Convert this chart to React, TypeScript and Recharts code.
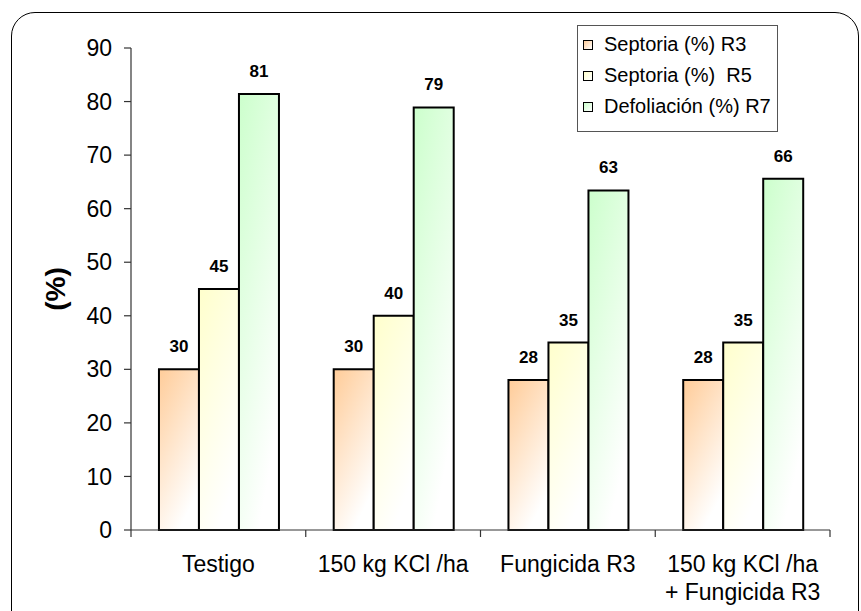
import React from "react";
import { Bar, BarChart, LabelList, Legend, XAxis, YAxis } from "recharts";

const categories = ["Testigo", "150 kg KCl /ha", "Fungicida R3", "150 kg KCl /ha\n+ Fungicida R3"];
const septoriaR3 = [30, 30, 28, 28];
const septoriaR5 = [45, 40, 35, 35];
const defoliacionR7 = [81.4, 78.9, 63.4, 65.6];
const seriesNames = ["Septoria (%) R3", "Septoria (%)  R5", "Defoliación (%) R7"];
const seriesKeys = ["r3", "r5", "r7"];
const seriesColors = ["#FFCC99", "#FFFFCC", "#CCFFCC"];
const yTicks = [0, 10, 20, 30, 40, 50, 60, 70, 80, 90];

const rows = categories.map((name, i) => ({
  name,
  r3: septoriaR3[i],
  r5: septoriaR5[i],
  r7: defoliacionR7[i],
}));

const FONT = '"Liberation Sans", Arial, sans-serif';

const CategoryTick = (props: any) => {
  const { x, y, payload, index } = props;
  const half = payload?.offset ?? 87;
  const lines = String(payload.value).split("\n");
  const last = index === categories.length - 1;
  return (
    <g>
      <line x1={x - half} x2={x - half} y1={y - 7} y2={y} stroke="#333" strokeWidth={1.2} />
      {last && <line x1={x + half} x2={x + half} y1={y - 7} y2={y} stroke="#333" strokeWidth={1.2} />}
      <text x={x} y={y} textAnchor="middle" fontSize={23} fill="#000">
        {lines.map((l, i) => (
          <tspan key={i} x={x} dy={i === 0 ? 35 : 28}>
            {l}
          </tspan>
        ))}
      </text>
    </g>
  );
};

const LegendBox = () => (
  <div
    style={{
      width: 201,
      height: 107,
      boxSizing: "border-box",
      border: "1px solid #555",
      background: "#fff",
      paddingTop: 3,
      paddingLeft: 5,
      fontFamily: FONT,
    }}
  >
    {seriesNames.map((n, i) => (
      <div key={n} style={{ display: "flex", alignItems: "center", height: 31 }}>
        <span
          style={{
            display: "inline-block",
            width: 8,
            height: 8,
            border: "1px solid #000",
            background: `linear-gradient(135deg, ${seriesColors[i]}, #fff)`,
          }}
        />
        <span style={{ marginLeft: 11, fontSize: 20, color: "#000", whiteSpace: "pre" }}>{n}</span>
      </div>
    ))}
  </div>
);

const roundLabel = (v: any) => Math.round(Number(v));

export default function App() {
  return (
    <div
      style={{
        position: "absolute",
        left: 0,
        top: 0,
        width: 861,
        height: 611,
        overflow: "hidden",
        background: "#fff",
        fontFamily: FONT,
      }}
    >
      <div
        style={{
          position: "absolute",
          left: 11,
          top: 12,
          width: 848,
          height: 640,
          boxSizing: "border-box",
          border: "1.5px solid #000",
          borderRadius: 24,
          pointerEvents: "none",
        }}
      />
      <BarChart
        width={861}
        height={611}
        data={rows}
        margin={{ top: 48, right: 31, left: 0, bottom: 0 }}
        barCategoryGap="16%"
        barGap={0}
      >
        <defs>
          {seriesKeys.map((k, i) => (
            <linearGradient key={k} id={`grad-${k}`} x1="0" y1="0" x2="0.5" y2="1">
              <stop offset="0%" stopColor={seriesColors[i]} />
              <stop offset="100%" stopColor="#FFFFFF" />
            </linearGradient>
          ))}
        </defs>
        <XAxis
          dataKey="name"
          height={81}
          interval={0}
          tickLine={false}
          tickSize={7}
          tickMargin={0}
          axisLine={{ stroke: "#333", strokeWidth: 1.2 }}
          tick={<CategoryTick />}
        />
        <YAxis
          width={131}
          domain={[0, 90]}
          ticks={yTicks}
          interval={0}
          tickSize={7}
          tickMargin={12}
          axisLine={{ stroke: "#333", strokeWidth: 1.2 }}
          tickLine={{ stroke: "#333", strokeWidth: 1.2 }}
          tick={{ fontSize: 23, fill: "#000" }}
          label={{
            content: (p: any) => {
              const vb = p.viewBox || {};
              const cy = (vb.y ?? 48) + (vb.height ?? 482) / 2;
              return (
                <text
                  x={55}
                  y={cy}
                  transform={`rotate(-90, 55, ${cy})`}
                  textAnchor="middle"
                  dominantBaseline="central"
                  fontSize={28}
                  fontWeight="bold"
                  fill="#000"
                >
                  (%)
                </text>
              );
            },
          }}
        />
        <Legend
          layout="horizontal"
          verticalAlign="middle"
          align="center"
          wrapperStyle={{ left: 577, top: 25, width: 201, height: 107 }}
          content={<LegendBox />}
        />
        {seriesKeys.map((k, i) => (
          <Bar
            key={k}
            dataKey={k}
            name={seriesNames[i]}
            fill={`url(#grad-${k})`}
            stroke="#000"
            strokeWidth={2}
            isAnimationActive={false}
          >
            <LabelList
              dataKey={k}
              position="top"
              offset={17}
              formatter={roundLabel}
              style={{ fontSize: 17, fontWeight: "bold", fill: "#000" }}
            />
          </Bar>
        ))}
      </BarChart>
    </div>
  );
}
